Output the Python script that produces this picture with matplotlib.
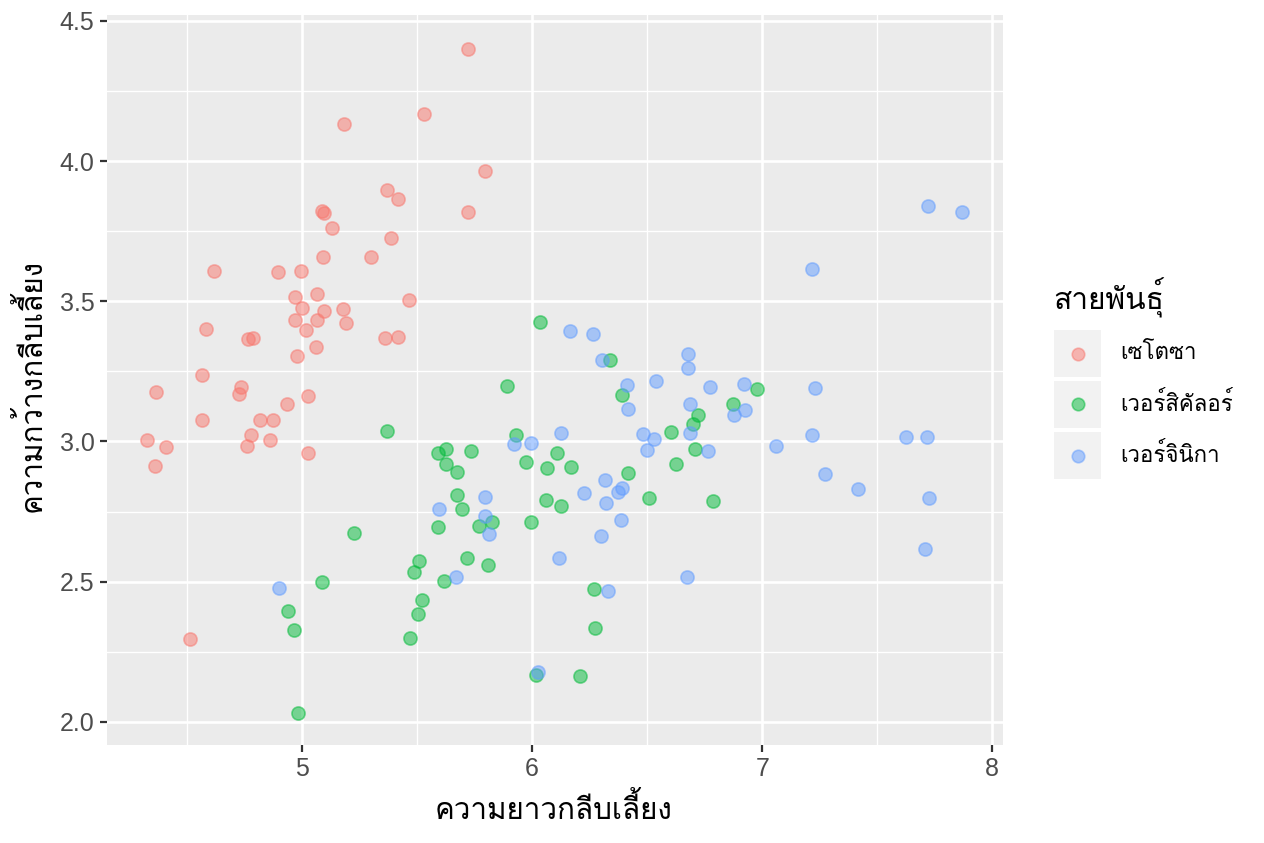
import matplotlib
matplotlib.use("Agg")
import matplotlib.pyplot as plt
from matplotlib import font_manager
from matplotlib.ft2font import FT2Font
from matplotlib.patches import Rectangle
from matplotlib.lines import Line2D

# ข้อมูล (อ่านจากภาพ, มี jitter)
species = ["เซโตซา", "เวอร์สิคัลอร์", "เวอร์จินิกา"]
colors = ["#F8766D", "#00BA38", "#619CFF"]

setosa_x = [5.721, 5.530, 5.183, 5.795, 5.369, 5.417, 5.721, 5.087, 5.096, 5.130,
            5.387, 5.091, 5.300, 4.618, 4.896, 4.996, 5.465, 4.970, 5.065, 5.000,
            5.096, 5.178, 4.970, 5.065, 5.191, 4.583, 5.017, 4.765, 4.787, 5.361,
            5.417, 5.061, 4.978, 4.565, 4.366, 4.735, 4.726, 4.935, 5.026, 4.565,
            4.817, 4.874, 4.778, 4.861, 4.761, 4.326, 4.409, 5.026, 4.361, 4.513]
setosa_y = [4.400, 4.168, 4.133, 3.965, 3.897, 3.865, 3.819, 3.822, 3.815, 3.762,
            3.726, 3.658, 3.658, 3.608, 3.605, 3.608, 3.505, 3.515, 3.526, 3.476,
            3.465, 3.473, 3.433, 3.433, 3.423, 3.401, 3.398, 3.365, 3.369, 3.369,
            3.373, 3.337, 3.305, 3.237, 3.176, 3.194, 3.169, 3.134, 3.162, 3.077,
            3.077, 3.077, 3.023, 3.005, 2.984, 3.005, 2.980, 2.959, 2.912, 2.295]

versicolor_x = [6.034, 6.339, 5.891, 6.391, 6.977, 6.873, 6.721, 6.699, 6.604, 5.369,
                5.930, 5.626, 5.591, 5.734, 6.108, 5.973, 6.708, 6.625, 5.626, 6.065,
                6.169, 5.674, 6.417, 5.674, 6.508, 6.060, 6.786, 6.126, 5.695, 5.826,
                5.769, 5.995, 5.591, 5.226, 5.717, 5.808, 5.508, 5.487, 5.617, 5.087,
                6.269, 5.522, 4.939, 5.504, 4.965, 6.273, 5.469, 6.017, 6.208, 4.983]
versicolor_y = [3.426, 3.291, 3.198, 3.166, 3.187, 3.134, 3.094, 3.062, 3.034, 3.037,
                3.023, 2.973, 2.959, 2.966, 2.959, 2.927, 2.973, 2.920, 2.920, 2.905,
                2.909, 2.891, 2.887, 2.809, 2.798, 2.791, 2.788, 2.770, 2.759, 2.713,
                2.698, 2.713, 2.695, 2.673, 2.584, 2.559, 2.573, 2.534, 2.502, 2.499,
                2.474, 2.434, 2.395, 2.385, 2.327, 2.334, 2.299, 2.167, 2.163, 2.031]

virginica_x = [7.721, 7.868, 7.216, 6.165, 6.265, 6.304, 6.678, 6.678, 6.412, 6.538,
               6.773, 6.921, 7.229, 6.417, 6.686, 6.925, 6.877, 6.126, 6.686, 6.482,
               6.530, 7.216, 7.625, 7.716, 7.060, 6.499, 6.764, 5.921, 5.995, 6.317,
               7.273, 7.416, 7.725, 6.226, 6.391, 6.373, 5.795, 6.321, 5.595, 5.795,
               6.386, 5.813, 6.299, 7.708, 6.117, 5.669, 6.673, 4.900, 6.330, 6.026]
virginica_y = [3.840, 3.819, 3.615, 3.394, 3.383, 3.291, 3.312, 3.262, 3.201, 3.216,
               3.194, 3.205, 3.191, 3.116, 3.134, 3.112, 3.094, 3.030, 3.030, 3.027,
               3.009, 3.023, 3.016, 3.016, 2.984, 2.970, 2.966, 2.991, 2.995, 2.862,
               2.884, 2.830, 2.798, 2.816, 2.834, 2.820, 2.802, 2.780, 2.759, 2.734,
               2.720, 2.670, 2.663, 2.616, 2.584, 2.516, 2.516, 2.477, 2.467, 2.178]

x_ticks = [5, 6, 7, 8]
y_ticks = [2.0, 2.5, 3.0, 3.5, 4.0, 4.5]


def find_thai_font():
    # หาฟอนต์ที่มีตัวอักษรไทย
    for f in font_manager.fontManager.ttflist:
        try:
            if 0x0E01 in FT2Font(f.fname).get_charmap():
                return f.name
        except Exception:
            pass
    return "DejaVu Sans"


thai = find_thai_font()
plt.rcParams["font.family"] = [thai, "DejaVu Sans"]

W, H = 1264, 843
fig = plt.figure(figsize=(W / 100, H / 100), dpi=100)
fig.patch.set_facecolor("white")
ax = fig.add_axes([107 / W, 1 - 745 / H, (1003 - 107) / W, (745 - 15) / H])
ax.set_facecolor("#EBEBEB")

series = [(setosa_x, setosa_y), (versicolor_x, versicolor_y), (virginica_x, virginica_y)]
for (xs, ys), c in zip(series, colors):
    ax.scatter(xs, ys, s=90, facecolor=c, edgecolor=c, alpha=0.5, linewidths=1.2, zorder=3)

ax.set_xlim(4.1525, 8.0465)
ax.set_ylim(1.917, 4.5214)
ax.set_xticks(x_ticks)
ax.set_yticks(y_ticks)
ax.set_xticks([4.5, 5.5, 6.5, 7.5], minor=True)
ax.set_yticks([2.25, 2.75, 3.25, 3.75, 4.25], minor=True)
ax.set_xticklabels([str(v) for v in x_ticks], family="Liberation Sans")
ax.set_yticklabels([f"{v:.1f}" for v in y_ticks], family="Liberation Sans")
ax.grid(which="major", color="white", linewidth=1.9, zorder=0)
ax.grid(which="minor", color="white", linewidth=0.95, zorder=0)
ax.set_axisbelow(True)
for s in ax.spines.values():
    s.set_visible(False)
ax.tick_params(which="major", length=5, width=1.6, color="#333333",
               labelsize=18, labelcolor="#4D4D4D", pad=4)
ax.tick_params(which="minor", length=0)

fig.text(554 / W, 1 - 809 / H, "ความยาวกลีบเลี้ยง", ha="center", va="center", fontsize=21.3)
fig.text(31 / W, 1 - 385 / H, "ความกว้างกลีบเลี้ยง", ha="center", va="center",
         fontsize=21.3, rotation=90)

# legend แบบ ggplot
fig.text(1053 / W, 1 - 298 / H, "สายพันธุ์", ha="left", va="center", fontsize=21.5)
key_tops = [330, 381, 432]
for top, lab, c in zip(key_tops, species, colors):
    fig.add_artist(Rectangle((1054 / W, 1 - (top + 47) / H), 47 / W, 47 / H,
                             transform=fig.transFigure, facecolor="#F2F2F2",
                             edgecolor="none"))
    cy = 1 - (top + 23.5) / H
    fig.add_artist(Line2D([1077.5 / W], [cy], transform=fig.transFigure, marker="o",
                          markersize=9, markerfacecolor=c, markeredgecolor=c,
                          alpha=0.5, markeredgewidth=1.2, linestyle="none"))
    fig.text(1120 / W, cy, lab, ha="left", va="center", fontsize=16)

fig.savefig("out.png", dpi=100)
